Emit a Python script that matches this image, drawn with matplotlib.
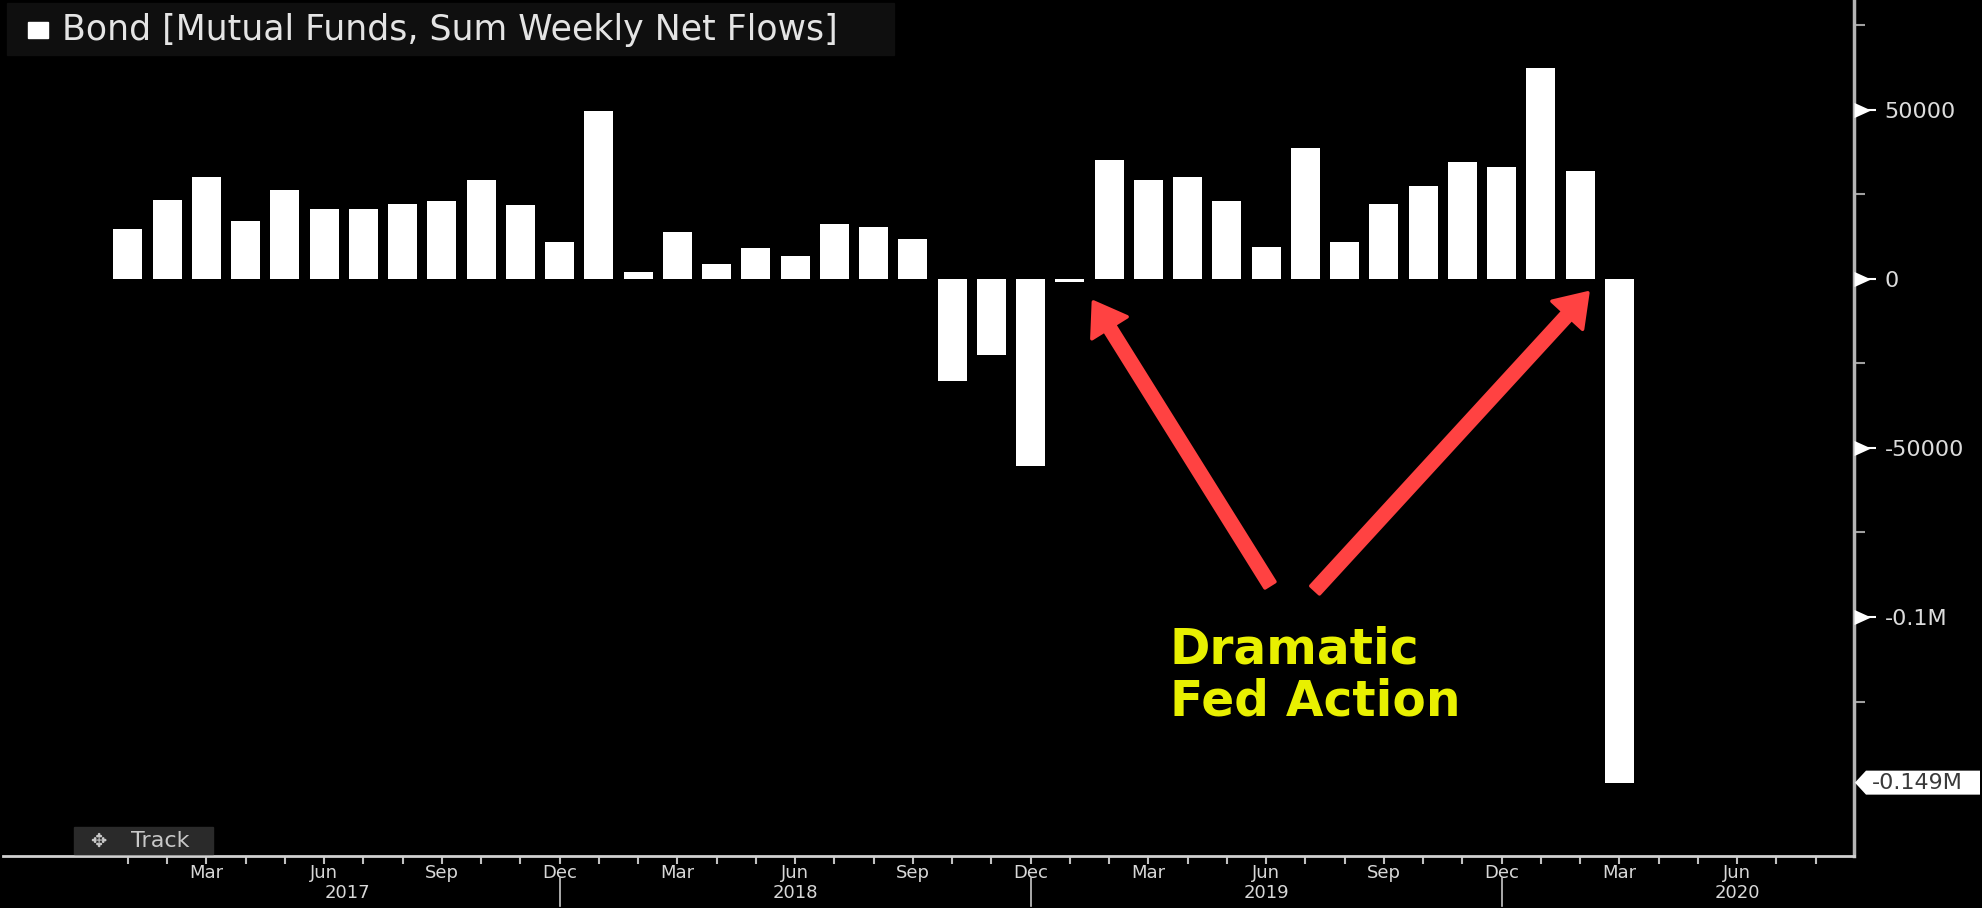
import numpy as np
import pandas as pd
import matplotlib
matplotlib.use('Agg')
import matplotlib.pyplot as plt
from matplotlib.patches import Rectangle, Polygon
from matplotlib.path import Path
from matplotlib.transforms import blended_transform_factory

# Bond mutual funds, monthly sum of weekly net flows, Jan 2017 - Mar 2020
meses = pd.date_range('2017-01-01', '2020-03-01', freq='MS')
flujos = [14700, 23300, 30000, 17000, 26300, 20700, 20700, 22200, 23000, 29300,
          21800, 10900, 49600, 1900, 13900, 4500, 9000, 6800, 16200, 15400,
          11700, -30100, -22600, -55300, -800, 35300, 29300, 30000, 23000, 9400,
          38700, 10900, 22200, 27400, 34600, 33100, 62400, 32000, -149000]

# eje de tiempo hasta Ago 2020
eje = pd.date_range('2017-01-01', '2020-08-01', freq='MS')
anios = ['2017', '2018', '2019', '2020']
pos_anios = [5.6, 17, 29, 41]

# flechas: (punta, cola) en coordenadas de datos
flechas = [((24.6, -6800), (29.1, -90500)),
           ((37.2, -4100), (30.25, -92000))]
nota = 'Dramatic\nFed Action'

W, H = 1982, 908
fig = plt.figure(figsize=(W / 100, H / 100), dpi=100, facecolor='black')
ax = fig.add_axes([3 / W, (H - 856) / H, (1854 - 3) / W, 856 / H])
ax.set_facecolor('black')

x = np.arange(len(flujos))
ax.bar(x, flujos, width=0.74, color='white', zorder=3)

ax.set_xlim(-3.18, 43.98)
ax.set_ylim(-170700, 82500)

# eje y a la derecha
ax.yaxis.tick_right()
ax.set_yticks([50000, 0, -50000, -100000])
ax.set_yticklabels(['50000', '0', '-50000', '-0.1M'])
ax.set_yticks([75000, 25000, -25000, -75000, -125000], minor=True)
ax.tick_params(axis='y', which='major', length=16, width=1.5, color='white',
               labelcolor='#dcdcdc', labelsize=16, pad=6)
ax.tick_params(axis='y', which='minor', length=8, width=1.5, color='#a0a0a0')
for lab in ax.get_yticklabels():
    lab.set_horizontalalignment('left')

# marcas triangulares (base en el eje, punta a la derecha)
cuna = Path([(0, -1), (0, 1), (2.2, 0), (0, -1)],
            [Path.MOVETO, Path.LINETO, Path.LINETO, Path.CLOSEPOLY])
blend_y = blended_transform_factory(ax.transAxes, ax.transData)
for v in [50000, 0, -50000, -100000]:
    ax.plot([1.0], [v], marker=cuna, ms=24, color='white', mew=0,
            transform=blend_y, clip_on=False, zorder=5)

# eje x con meses
etiquetas = [d.strftime('%b') if d.month in (3, 6, 9, 12) else '' for d in eje]
ax.set_xticks(np.arange(len(eje)))
ax.set_xticklabels(etiquetas)
ax.tick_params(axis='x', length=6, width=1.5, color='#c0c0c0',
               labelcolor='#d8d8d8', labelsize=13, pad=0)

blend_x = blended_transform_factory(ax.transData, ax.transAxes)
for i, d in enumerate(eje):
    if d.month == 12:
        ax.plot([i, i], [-0.0257, -0.0584], color='#c8c8c8', lw=1.2,
                transform=blend_x, clip_on=False)
for a, p in zip(anios, pos_anios):
    ax.text(p, -0.0435, a, transform=blend_x, ha='center', va='center',
            color='#d8d8d8', fontsize=13)

for s in ['top', 'left']:
    ax.spines[s].set_visible(False)
ax.spines['right'].set_color('#b4b4b4')
ax.spines['right'].set_linewidth(2.5)
ax.spines['bottom'].set_color('#d0d0d0')
ax.spines['bottom'].set_linewidth(2)

# etiqueta del ultimo valor
ult = flujos[-1]
dy = 3550
caja = Polygon([(1.0005, ult), (1 + 12 / 1851, ult + dy), (1 + 126 / 1851, ult + dy),
                (1 + 126 / 1851, ult - dy), (1 + 12 / 1851, ult - dy)],
               closed=True, facecolor='white', edgecolor='none',
               transform=blend_y, clip_on=False, zorder=6)
ax.add_patch(caja)
ax.text(1 + 18 / 1851, ult, f'{ult / 1e6:.3f}M', transform=blend_y,
        ha='left', va='center', color='#3a3a3a', fontsize=16, zorder=7)

# flechas y nota
for punta, cola in flechas:
    ax.annotate('', xy=punta, xytext=cola,
                arrowprops=dict(arrowstyle='simple,head_length=22,head_width=30,tail_width=8.5',
                                mutation_scale=1, color='#ff4242', lw=2.5,
                                joinstyle='round', shrinkA=0, shrinkB=0),
                zorder=8)
ax.text(26.55, -102500, nota, color='#e8f000', fontsize=35, fontweight='bold',
        ha='left', va='top', linespacing=1.1, zorder=8)

# leyenda (titulo)
fig.add_artist(Rectangle((7 / W, 1 - 55 / H), 887 / W, 52 / H,
                         transform=fig.transFigure, color='#0f0f0f'))
fig.add_artist(Rectangle((28 / W, 1 - 38 / H), 20 / W, 16 / H,
                         transform=fig.transFigure, color='white'))
fig.text(62 / W, 1 - 30 / H, 'Bond [Mutual Funds, Sum Weekly Net Flows]',
         color='#e4e4e4', fontsize=25, va='center', ha='left')

# boton Track
fig.add_artist(Rectangle((74 / W, 1 - 854 / H), 139 / W, 27 / H,
                         transform=fig.transFigure, color='#2a2a2a'))
fig.text(90 / W, 1 - 841 / H, '\u2725', color='#c8c8c8', fontsize=14,
         va='center', ha='left', family=['DejaVu Sans', 'Noto Sans'])
fig.text(131 / W, 1 - 841 / H, 'Track', color='#c8c8c8', fontsize=16,
         va='center', ha='left')

fig.savefig('out.png', dpi=100, facecolor=fig.get_facecolor())
